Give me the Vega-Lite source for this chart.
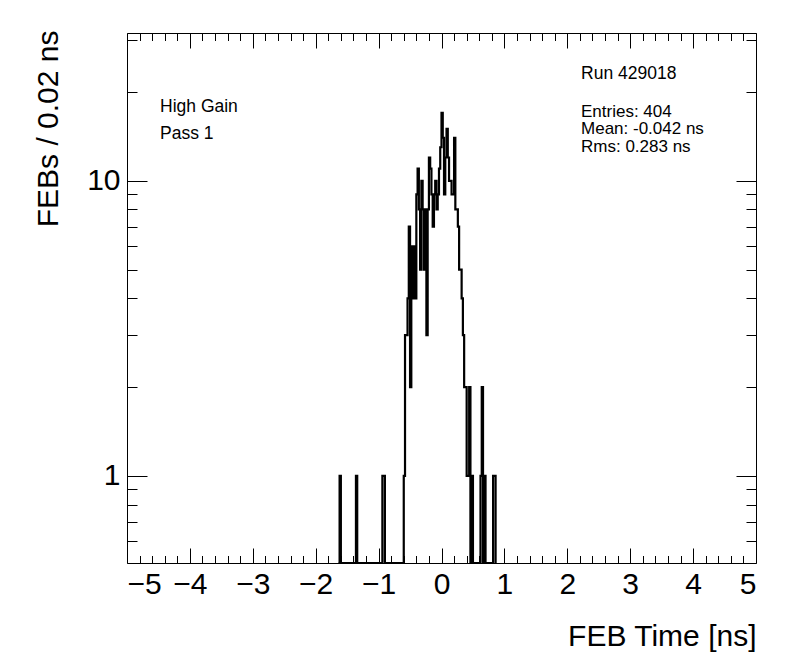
{
  "$schema": "https://vega.github.io/schema/vega-lite/v6.json",
  "width": 629,
  "height": 530,
  "autosize": {"type": "none"},
  "padding": {"left": 127, "top": 33, "right": 40, "bottom": 109},
  "background": "white",
  "data": {"values": [
    {"t": -1.64, "n": 0}, {"t": -1.62, "n": 1}, {"t": -1.60, "n": 0},
    {"t": -1.36, "n": 1}, {"t": -1.34, "n": 0},
    {"t": -0.94, "n": 1}, {"t": -0.92, "n": 1}, {"t": -0.90, "n": 0},
    {"t": -0.60, "n": 1}, {"t": -0.58, "n": 3}, {"t": -0.56, "n": 3}, {"t": -0.54, "n": 4},
    {"t": -0.52, "n": 7}, {"t": -0.50, "n": 2}, {"t": -0.48, "n": 6}, {"t": -0.46, "n": 4},
    {"t": -0.44, "n": 6}, {"t": -0.42, "n": 4}, {"t": -0.40, "n": 9}, {"t": -0.38, "n": 11},
    {"t": -0.36, "n": 8}, {"t": -0.34, "n": 5}, {"t": -0.32, "n": 10}, {"t": -0.30, "n": 8},
    {"t": -0.28, "n": 5}, {"t": -0.26, "n": 8}, {"t": -0.24, "n": 3}, {"t": -0.22, "n": 8},
    {"t": -0.20, "n": 12}, {"t": -0.18, "n": 11}, {"t": -0.16, "n": 9}, {"t": -0.14, "n": 7},
    {"t": -0.12, "n": 9}, {"t": -0.10, "n": 10}, {"t": -0.08, "n": 8}, {"t": -0.06, "n": 9},
    {"t": -0.04, "n": 11}, {"t": -0.02, "n": 13}, {"t": 0.00, "n": 17}, {"t": 0.02, "n": 14},
    {"t": 0.04, "n": 9}, {"t": 0.06, "n": 12}, {"t": 0.08, "n": 15}, {"t": 0.10, "n": 12},
    {"t": 0.12, "n": 10}, {"t": 0.14, "n": 10}, {"t": 0.16, "n": 9}, {"t": 0.18, "n": 9},
    {"t": 0.20, "n": 14}, {"t": 0.22, "n": 8}, {"t": 0.24, "n": 8}, {"t": 0.26, "n": 7},
    {"t": 0.28, "n": 5}, {"t": 0.30, "n": 5}, {"t": 0.32, "n": 4}, {"t": 0.34, "n": 3},
    {"t": 0.36, "n": 2}, {"t": 0.38, "n": 2}, {"t": 0.40, "n": 1}, {"t": 0.42, "n": 1},
    {"t": 0.44, "n": 2}, {"t": 0.46, "n": 0}, {"t": 0.48, "n": 1}, {"t": 0.50, "n": 0},
    {"t": 0.62, "n": 1}, {"t": 0.64, "n": 2}, {"t": 0.66, "n": 0}, {"t": 0.68, "n": 1},
    {"t": 0.70, "n": 0}, {"t": 0.82, "n": 1}, {"t": 0.84, "n": 1}, {"t": 0.86, "n": 0}
  ]},
  "resolve": {"axis": {"x": "independent", "y": "independent"}},
  "layer": [
    {
      "mark": {"type": "line", "interpolate": "step-after", "color": "black", "strokeWidth": 2.2, "invalid": "show"},
      "encoding": {
        "x": {"field": "t", "type": "quantitative",
          "scale": {"domain": [-5, 5], "nice": false, "zero": false},
          "axis": {"orient": "bottom", "values": [-5, -4, -3, -2, -1, 0, 1, 2, 3, 4, 5], "tickSize": -15, "labelPadding": 21, "format": "d",
            "title": "FEB Time [ns]", "titleFontSize": 30, "titleAnchor": "end", "titleAlign": "right", "titleBaseline": "middle", "titleX": 629, "titleY": 73}},
        "y": {"field": "n", "type": "quantitative",
          "scale": {"type": "log", "domain": [0.507, 31.7], "nice": false, "clamp": true},
          "axis": {"orient": "left", "values": [1, 10], "tickSize": -20, "labelPadding": 27, "format": "d",
            "title": "FEBs / 0.02 ns", "titleFontSize": 30, "titleAngle": -90, "titleAlign": "right", "titleBaseline": "middle", "titleX": -79, "titleY": -3}}
      }
    },
    {
      "mark": {"type": "line", "opacity": 0},
      "encoding": {
        "x": {"field": "t", "type": "quantitative",
          "axis": {"orient": "bottom", "values": [-4.8, -4.6, -4.4, -4.2, -3.8, -3.6, -3.4, -3.2, -2.8, -2.6, -2.4, -2.2, -1.8, -1.6, -1.4, -1.2, -0.8, -0.6, -0.4, -0.2, 0.2, 0.4, 0.6, 0.8, 1.2, 1.4, 1.6, 1.8, 2.2, 2.4, 2.6, 2.8, 3.2, 3.4, 3.6, 3.8, 4.2, 4.4, 4.6, 4.8], "tickSize": -7.5, "labels": false, "title": null}},
        "y": {"field": "n", "type": "quantitative",
          "axis": {"orient": "left", "values": [0.6, 0.7, 0.8, 0.9, 2, 3, 4, 5, 6, 7, 8, 9, 20, 30], "tickSize": -10, "labels": false, "title": null}}
      }
    },
    {
      "mark": {"type": "line", "opacity": 0},
      "encoding": {
        "x": {"field": "t", "type": "quantitative",
          "axis": {"orient": "top", "values": [-5, -4, -3, -2, -1, 0, 1, 2, 3, 4, 5], "tickSize": -15, "labels": false, "title": null}},
        "y": {"field": "n", "type": "quantitative",
          "axis": {"orient": "right", "values": [1, 10], "tickSize": -20, "labels": false, "title": null}}
      }
    },
    {
      "mark": {"type": "line", "opacity": 0},
      "encoding": {
        "x": {"field": "t", "type": "quantitative",
          "axis": {"orient": "top", "values": [-4.8, -4.6, -4.4, -4.2, -3.8, -3.6, -3.4, -3.2, -2.8, -2.6, -2.4, -2.2, -1.8, -1.6, -1.4, -1.2, -0.8, -0.6, -0.4, -0.2, 0.2, 0.4, 0.6, 0.8, 1.2, 1.4, 1.6, 1.8, 2.2, 2.4, 2.6, 2.8, 3.2, 3.4, 3.6, 3.8, 4.2, 4.4, 4.6, 4.8], "tickSize": -7.5, "labels": false, "title": null}},
        "y": {"field": "n", "type": "quantitative",
          "axis": {"orient": "right", "values": [0.6, 0.7, 0.8, 0.9, 2, 3, 4, 5, 6, 7, 8, 9, 20, 30], "tickSize": -10, "labels": false, "title": null}}
      }
    },
    {
      "data": {"values": [{}]},
      "mark": {"type": "text", "text": "High Gain", "align": "left", "baseline": "middle", "fontSize": 17.5, "font": "Liberation Sans", "color": "black"},
      "encoding": {"x": {"datum": -4.475, "type": "quantitative", "axis": null}, "y": {"datum": 17.82, "type": "quantitative", "axis": null}}
    },
    {
      "data": {"values": [{}]},
      "mark": {"type": "text", "text": "Pass 1", "align": "left", "baseline": "middle", "fontSize": 17.5, "font": "Liberation Sans", "color": "black"},
      "encoding": {"x": {"datum": -4.475, "type": "quantitative", "axis": null}, "y": {"datum": 14.43, "type": "quantitative", "axis": null}}
    },
    {
      "data": {"values": [{}]},
      "mark": {"type": "text", "text": "Run 429018", "align": "left", "baseline": "middle", "fontSize": 17.5, "font": "Liberation Sans", "color": "black"},
      "encoding": {"x": {"datum": 2.218, "type": "quantitative", "axis": null}, "y": {"datum": 23.05, "type": "quantitative", "axis": null}}
    },
    {
      "data": {"values": [{}]},
      "mark": {"type": "text", "text": "Entries: 404", "align": "left", "baseline": "middle", "fontSize": 17, "font": "Liberation Sans", "color": "black"},
      "encoding": {"x": {"datum": 2.218, "type": "quantitative", "axis": null}, "y": {"datum": 17.14, "type": "quantitative", "axis": null}}
    },
    {
      "data": {"values": [{}]},
      "mark": {"type": "text", "text": "Mean: -0.042 ns", "align": "left", "baseline": "middle", "fontSize": 17, "font": "Liberation Sans", "color": "black"},
      "encoding": {"x": {"datum": 2.218, "type": "quantitative", "axis": null}, "y": {"datum": 14.95, "type": "quantitative", "axis": null}}
    },
    {
      "data": {"values": [{}]},
      "mark": {"type": "text", "text": "Rms: 0.283 ns", "align": "left", "baseline": "middle", "fontSize": 17, "font": "Liberation Sans", "color": "black"},
      "encoding": {"x": {"datum": 2.218, "type": "quantitative", "axis": null}, "y": {"datum": 13.04, "type": "quantitative", "axis": null}}
    }
  ],
  "config": {
    "font": "Liberation Sans",
    "view": {"stroke": "black", "strokeWidth": 1},
    "axis": {"domain": false, "grid": false, "tickColor": "black", "tickWidth": 1,
      "labelFont": "Liberation Sans", "labelFontSize": 30, "labelColor": "black",
      "titleFont": "Liberation Sans", "titleFontSize": 29, "titleFontWeight": "normal", "titleColor": "black"}
  }
}
